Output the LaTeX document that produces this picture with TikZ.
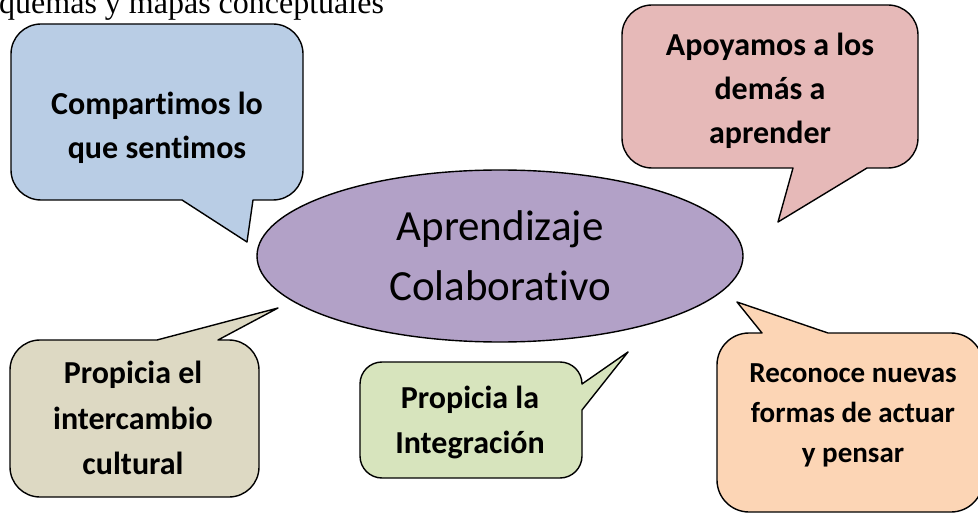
\documentclass[tikz,border=0pt]{standalone}
\usepackage{fontspec}
\setmainfont{Carlito}[Ligatures={NoCommon}]
\newfontfamily\serifhead{Liberation Serif}
\usetikzlibrary{shapes.geometric}
\definecolor{cblue}{HTML}{B9CDE5}
\definecolor{cpink}{HTML}{E6B9B8}
\definecolor{ckhaki}{HTML}{DDD9C3}
\definecolor{cgreen}{HTML}{D7E4BD}
\definecolor{corange}{HTML}{FCD5B5}
\definecolor{cpurp}{HTML}{B2A1C7}
\begin{document}
\begin{tikzpicture}[x=1pt,y=1pt,
  callout/.style={draw=black, line width=1.4pt, line join=round},
  ctext/.style={font=\bfseries\fontsize{32}{44}\selectfont, align=center, inner sep=0pt},
]
\useasboundingbox (0,0) rectangle (978,515);
\node[font=\serifhead\fontsize{32}{38}\selectfont, anchor=base west, inner sep=0pt] (hdr) at (-1,501) {quemas y mapas conceptuales};
% blue callout
\path[callout, fill=cblue] (41,491) -- (273,491) arc[start angle=90,end angle=0,radius=30] -- (303,345) arc[start angle=0,end angle=-90,radius=30] -- (253,315) -- (247,273) -- (182,315) -- (41,315) arc[start angle=-90,end angle=-180,radius=30] -- (11,461) arc[start angle=180,end angle=90,radius=30] -- cycle;
% pink callout
\path[callout, fill=cpink] (652,510) -- (888,510) arc[start angle=90,end angle=0,radius=30] -- (918,377) arc[start angle=0,end angle=-90,radius=30] -- (867,347) -- (778,293) -- (793,347) -- (652,347) arc[start angle=-90,end angle=-180,radius=30] -- (622,480) arc[start angle=180,end angle=90,radius=30] -- cycle;
% khaki callout
\path[callout, fill=ckhaki] (40,175) -- (157,175) -- (278,207) -- (218,175) -- (229,175) arc[start angle=90,end angle=0,radius=30] -- (259,48) arc[start angle=0,end angle=-90,radius=30] -- (40,18) arc[start angle=-90,end angle=-180,radius=30] -- (10,145) arc[start angle=180,end angle=90,radius=30] -- cycle;
% green callout
\path[callout, fill=cgreen] (382,153) -- (560,153) arc[start angle=90,end angle=0,radius=22] -- (628,163) -- (582,105) -- (582,59) arc[start angle=0,end angle=-90,radius=22] -- (382,37) arc[start angle=-90,end angle=-180,radius=22] -- (360,131) arc[start angle=180,end angle=90,radius=22] -- cycle;
% orange callout
\path[callout, fill=corange] (747,182) -- (762,182) -- (737,213) -- (828,182) -- (951,182) arc[start angle=90,end angle=0,radius=32] -- (983,35) arc[start angle=0,end angle=-90,radius=32] -- (749,3) arc[start angle=-90,end angle=-180,radius=32] -- (717,150) arc[start angle=180,end angle=90,radius=32] -- cycle;
% central ellipse
\node[ellipse, draw=black, line width=1.4pt, fill=cpurp, minimum width=486, minimum height=172, inner sep=0pt, align=center, font=\fontsize{43}{60}\selectfont] (core) at (500,259) {Aprendizaje\\Colaborativo};
% texts
\node[ctext] (tb) at (157,387) {Compartimos lo\\que sentimos};
\node[ctext] (tp) at (770,424) {Apoyamos a los\\demás a\\aprender};
\node[ctext, font=\bfseries\fontsize{32}{45.5}\selectfont] (tk) at (133,97) {Propicia el\\intercambio\\cultural};
\node[ctext, font=\bfseries\fontsize{32}{45}\selectfont] (tg) at (470,93) {Propicia la\\Integración};
\node[ctext, font=\bfseries\fontsize{29}{40}\selectfont] (to) at (853,100) {Reconoce nuevas\\formas de actuar\\y pensar};
\end{tikzpicture}
\end{document}
